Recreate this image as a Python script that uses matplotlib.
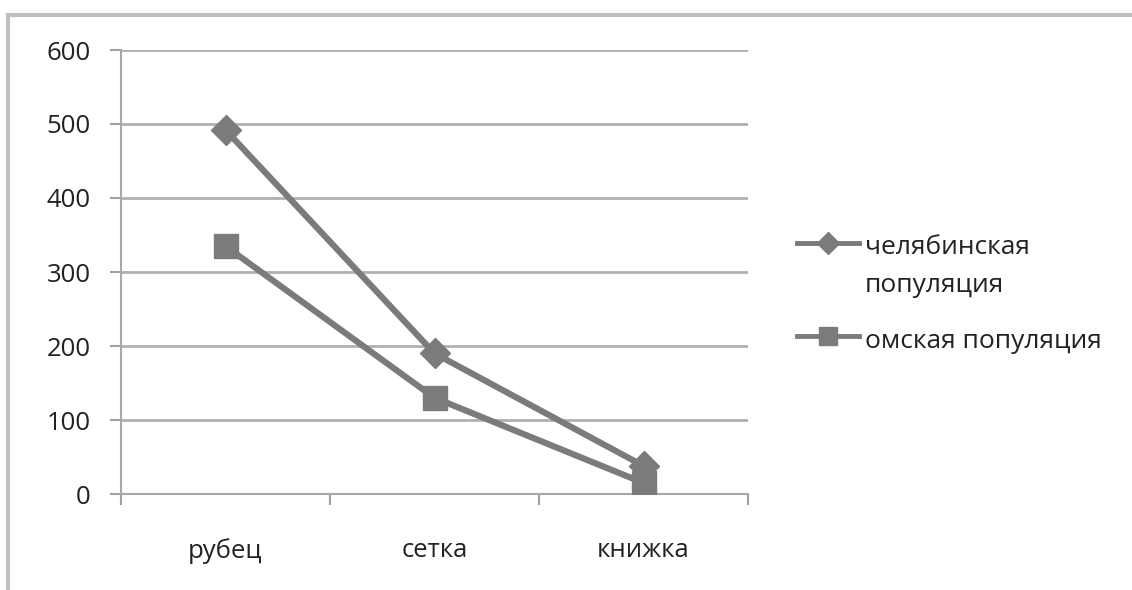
import matplotlib
matplotlib.use("Agg")
import matplotlib.pyplot as plt
from matplotlib.patches import Rectangle
from matplotlib.lines import Line2D

categories = ["рубец", "сетка", "книжка"]
chel = [492, 190, 38]
omsk = [335, 130, 15]
series_names = ["челябинская\nпопуляция", "омская популяция"]
yticks = [0, 100, 200, 300, 400, 500, 600]

plt.rcParams['font.family'] = ['Open Sans', 'DejaVu Sans']

W, H = 1132, 590
fig = plt.figure(figsize=(W/100, H/100), dpi=100)
fig.patches.append(Rectangle((8/W, -0.1), 1.2, (H-15)/H + 0.1, transform=fig.transFigure,
                             fill=False, edgecolor='#bfbfbf', linewidth=3))
ax = fig.add_axes([121/W, (H-494)/H, (748-121)/W, (494-50)/H])

x = list(range(len(categories)))
lc = '#7b7b7b'
ax.plot(x, chel, color=lc, lw=4.5, marker='D', ms=15, label=series_names[0], zorder=3)
ax.plot(x, omsk, color=lc, lw=4.5, marker='s', ms=17, label=series_names[1], zorder=3)

fs = 18.5
ax.set_xlim(-0.5, 2.5)
ax.set_ylim(0, 600)
ax.set_yticks(yticks)
ax.set_yticklabels([str(v) for v in yticks], fontsize=fs, color='#222222')
ax.set_xticks(x)
ax.set_xticklabels(categories, fontsize=fs, color='#222222')
ax.set_xticks([-0.5, 0.5, 1.5, 2.5], minor=True)
ax.tick_params(axis='x', which='major', length=0, pad=32)
ax.tick_params(axis='x', which='minor', length=8, color='#a0a0a0', width=1.5)
ax.tick_params(axis='y', length=8, color='#a0a0a0', width=1.5, pad=14, direction='out')
for v in yticks[1:]:
    ax.axhline(v, color='#b0b0b0', lw=2, zorder=0)
for s in ['top', 'right']:
    ax.spines[s].set_visible(False)
for s in ['left', 'bottom']:
    ax.spines[s].set_color('#a8a8a8')
    ax.spines[s].set_linewidth(1.5)

# manual legend (Excel style: marker aligned with first text line)
def fx(px):
    return px / W

def fy(py):
    return 1 - py / H

leg_y = [243, 336]
markers = ['D', 's']
msizes = [11, 13]
for yy, mk, msz, name in zip(leg_y, markers, msizes, series_names):
    fig.add_artist(Line2D([fx(797), fx(859)], [fy(yy), fy(yy)], transform=fig.transFigure,
                          color=lc, lw=3.5))
    fig.add_artist(Line2D([fx(828)], [fy(yy)], transform=fig.transFigure, color=lc,
                          marker=mk, ms=msz, lw=0))
    for i, ln in enumerate(name.split("\n")):
        fig.text(fx(865), fy(yy + 2 + 38 * i), ln, fontsize=19, color='#222222',
                 ha='left', va='center_baseline', transform=fig.transFigure)

fig.savefig("out.png", dpi=100)
